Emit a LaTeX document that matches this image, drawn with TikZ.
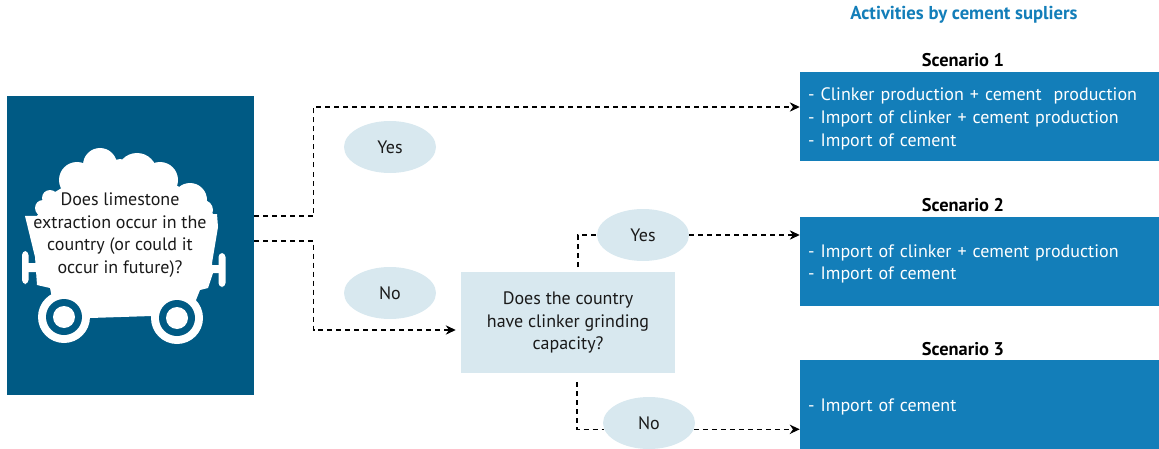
\documentclass[tikz,border=0pt]{standalone}
\usepackage{fontspec}
\setmainfont{PT Sans}
\usetikzlibrary{arrows.meta,shapes.geometric}
\definecolor{darkblue}{HTML}{005A84}
\definecolor{midblue}{HTML}{137EB9}
\definecolor{paleblue}{HTML}{D8E8EF}
\definecolor{inkgray}{HTML}{1A1A1A}
\begin{document}
\begin{tikzpicture}[x=0.75pt,y=-0.75pt]

    \tikzstyle{scenbox}=[rectangle,fill=midblue,text=white,minimum width=269.25pt,minimum height=67pt,
                         text width=257pt,inner xsep=6pt,inner ysep=0pt,align=left,font=\fontsize{13.5}{17}\selectfont,
                         execute at begin node=\rule{0pt}{13pt}]
    \tikzstyle{answer}=[ellipse,fill=paleblue,text=inkgray,minimum width=69pt,minimum height=39pt,inner sep=0pt,font=\fontsize{13.5}{17}\selectfont]
    \tikzstyle{scentitle}=[text=black,inner sep=0pt,font=\fontsize{13.8}{15}\selectfont\bfseries]
    \tikzstyle{flow}=[draw=black,line width=0.85pt,dash pattern=on 3.75pt off 3pt]
    \tikzstyle{flowarrow}=[flow,-{Stealth[length=7.5pt,width=7pt]}]

    \useasboundingbox (0,0) rectangle (1159,449);

    \node[rectangle,fill=darkblue,minimum width=185.25pt,minimum height=224.25pt,inner sep=0pt] (limestone) at (130.5,245.5) {};

    % cart
    \fill[white] (43,208)  circle (8)
                 (50,198)  circle (8)
                 (77,180)  circle (18)
                 (100,165) circle (17)
                 (120,172) circle (13)
                 (137,173) circle (20)
                 (160,180) circle (18)
                 (190,200) circle (17)
                 (203,210) circle (10);
    \fill[white] (37,216) -- (50,195) -- (100,165) -- (160,175) -- (200,200) -- (215,216) -- cycle;
    \fill[white] (25,216) -- (217,214) -- (218,227) -- (212,263) -- (213,273) -- (208,288) -- (200,290)
                 -- (196,300) -- (152,316) -- (90,318) -- (52,298) -- (50,288) -- (37,285) -- (35,257) -- cycle;
    \fill[white] (28,263) rectangle (37,272)
                 (212,265) rectangle (220,273);
    \fill[white,rounded corners=3pt] (22,251) rectangle (28.5,284)
                                     (218.5,253) rectangle (225.5,287);
    \fill[white] (64,317)  circle (26)
                 (177,318) circle (26);
    \fill[darkblue] (64,317)  circle (18)
                    (177,318) circle (18);
    \fill[white] (64,317)  circle (11)
                 (177,318) circle (11);

    \node[text=inkgray,align=center,inner sep=0pt,font=\fontsize{13.5}{17}\selectfont] (question) at (120,235)
        {Does limestone\\extraction occur in the\\country (or could it\\occur in future)?};

    \node[rectangle,fill=paleblue,text=inkgray,minimum width=160.5pt,minimum height=75.75pt,inner sep=0pt,align=center,
          font=\fontsize{13.5}{17}\selectfont] (capacity) at (568,322.5)
        {Does the country\\have clinker grinding\\capacity?};

    \node[answer] (yesmain) at (390,147) {Yes};
    \node[answer] (nomain)  at (390,293) {No};
    \node[answer] (yescap)  at (643,235) {Yes};
    \node[answer] (nocap)   at (649,423) {No};

    \node[scenbox] (scenone)   at (979.5,116.5) {- Clinker production + cement\ \ production\\- Import of clinker + cement production\\- Import of cement};
    \node[scenbox] (scentwo)   at (979.5,261.5) {- Import of clinker + cement production\\- Import of cement};
    \node[scenbox] (scenthree) at (979.5,405)   {- Import of cement};

    \node[text=midblue,inner sep=0pt,font=\fontsize{14}{15}\selectfont\bfseries] (heading) at (964,15) {Activities by cement supliers};
    \node[scentitle] (titleone)   at (963,60)  {Scenario 1};
    \node[scentitle] (titletwo)   at (963,205) {Scenario 2};
    \node[scentitle] (titlethree) at (963,349) {Scenario 3};

    \coordinate (yesout)  at (254,216);
    \coordinate (yestop)  at (313.5,107);
    \coordinate (noout)   at (254,241);
    \coordinate (nobot)   at (313.5,330);
    \coordinate (capup)   at (578,267);
    \coordinate (capdown) at (577,382);

    \draw[flowarrow] (yesout) -| (yestop) -- (scenone.west |- yestop);
    \draw[flowarrow,shorten >=3.75pt] (noout) -| (nobot) -- (capacity.west |- nobot);
    \draw[flow] (capup) |- (yescap.west);
    \draw[flowarrow] (yescap.east) -- (scentwo.west |- yescap.east);
    \draw[flow] (capdown) |- (nocap.188);
    \draw[flowarrow] (nocap.-8) -- (scenthree.west |- nocap.-8);
\end{tikzpicture}
\end{document}
